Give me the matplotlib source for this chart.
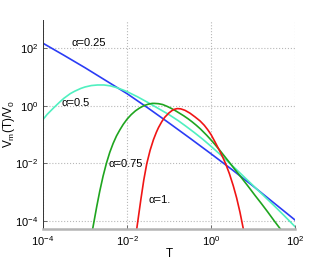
import numpy as np
from matplotlib import pyplot as plt

# valores (log10 de T y log10 de Vm/V0)
log_t_a025 = [-4.0, -3.5, -3.0, -2.5, -2.0, -1.5, -1.0, -0.5, 0.0, 0.5, 1.0, 1.5, 2.0]
log_v_a025 = [2.17, 1.75, 1.32, 0.87, 0.42, -0.08, -0.60, -1.13, -1.67, -2.22, -2.79, -3.38, -3.97]

log_t_a05 = [-4.0, -3.9, -3.75, -3.6, -3.5, -3.35, -3.25, -3.1, -3.0, -2.85, -2.7, -2.55,
             -2.4, -2.25, -2.1, -2.0, -1.75, -1.5, -1.25, -1.0, -0.78, -0.6, -0.4, -0.2,
             0.0, 0.2, 0.4, 0.6, 0.8, 1.0, 1.25, 1.5, 1.75, 2.0]
log_v_a05 = [-0.48, -0.30, -0.08, 0.13, 0.26, 0.42, 0.50, 0.60, 0.65, 0.70, 0.72, 0.72,
             0.69, 0.63, 0.55, 0.49, 0.31, 0.11, -0.10, -0.31, -0.52, -0.71, -0.93, -1.16,
             -1.41, -1.67, -1.94, -2.21, -2.49, -2.77, -3.12, -3.47, -3.83, -4.20]

log_t_a075 = [-2.85, -2.82, -2.78, -2.72, -2.65, -2.57, -2.49, -2.41, -2.33, -2.25,
              -2.17, -2.09, -2.0, -1.9, -1.8, -1.7, -1.6, -1.5, -1.4, -1.35,
              -1.25, -1.15, -1.05, -0.95, -0.85, -0.75, -0.65, -0.55, -0.45, -0.35,
              -0.25, -0.1, 0.05, 0.21, 0.4, 0.55, 0.73, 0.9, 1.05, 1.2,
              1.35, 1.5, 1.65, 1.72]
log_v_a075 = [-4.55, -4.30, -3.98, -3.50, -2.98, -2.45, -2.00, -1.62, -1.31, -1.05,
              -0.84, -0.65, -0.47, -0.31, -0.18, -0.08, 0.00, 0.05, 0.08, 0.08,
              0.07, 0.04, -0.02, -0.09, -0.17, -0.26, -0.35, -0.45, -0.56, -0.68,
              -0.81, -1.03, -1.27, -1.55, -1.90, -2.18, -2.51, -2.83, -3.12, -3.40,
              -3.69, -3.99, -4.28, -4.42]

log_t_a1 = [-1.80, -1.77, -1.72, -1.67, -1.60, -1.53, -1.45, -1.37, -1.30, -1.25, -1.17,
            -1.10, -1.00, -0.93, -0.86, -0.80, -0.72, -0.62, -0.50, -0.38, -0.26, -0.16,
            -0.08, 0.00, 0.10, 0.21, 0.28, 0.35, 0.44, 0.53, 0.61, 0.69, 0.77, 0.82]
log_v_a1 = [-4.60, -4.30, -3.78, -3.26, -2.58, -2.02, -1.55, -1.18, -0.92, -0.76, -0.55,
            -0.40, -0.25, -0.17, -0.12, -0.10, -0.11, -0.16, -0.26, -0.39, -0.53, -0.68,
            -0.83, -1.00, -1.27, -1.58, -1.79, -2.02, -2.37, -2.78, -3.20, -3.70, -4.28, -4.68]

etiquetas = ["α=0.25", "α=0.5", "α=0.75", "α=1."]

plt.rcParams["font.family"] = ["Liberation Sans", "DejaVu Sans"]
plt.rcParams["mathtext.fontset"] = "custom"
plt.rcParams["mathtext.rm"] = "Liberation Sans"
plt.rcParams["mathtext.it"] = "Liberation Sans:italic"

fig = plt.figure(figsize=(3.27, 2.59), dpi=100)
ax = fig.add_axes([0.1315, 0.1158, 0.7706, 0.807])

series = [(log_t_a025, log_v_a025, "#2a3cf5"),
          (log_t_a05, log_v_a05, "#50f0c0"),
          (log_t_a075, log_v_a075, "#1fa51f"),
          (log_t_a1, log_v_a1, "#f01515")]
for lt, lv, color in series:
    ax.plot(10 ** np.array(lt), 10 ** np.array(lv), color=color, lw=1.2,
            solid_joinstyle="round")

ax.set_xscale("log")
ax.set_yscale("log")
ax.set_xlim(1e-4, 1e2)
ax.set_ylim(5.2e-5, 9.5e2)
ax.set_xticks([1e-4, 1e-2, 1e0, 1e2])
ax.set_yticks([1e-4, 1e-2, 1e0, 1e2])
ax.minorticks_off()
ax.grid(True, linestyle=":", color="#b8b8b8", lw=0.8)
ax.tick_params(direction="in", length=3, width=0.6, labelsize=8, color="#555555")

ax.spines["top"].set_visible(False)
ax.spines["right"].set_visible(False)
ax.spines["left"].set_color("#333333")
ax.spines["left"].set_linewidth(0.7)
ax.spines["bottom"].set_color("#b4b4b4")
ax.spines["bottom"].set_linewidth(1.8)

ax.set_xlabel("T", fontsize=8.5, labelpad=0)
ax.set_ylabel(r"V$_{\rm m}$(T)/V$_0$", fontsize=8.5)
ax.yaxis.set_label_coords(-0.105, 0.5)

# posiciones de las etiquetas de cada curva
pos_texto = [(10 ** -3.31, 10 ** 2.17), (10 ** -3.55, 10 ** 0.10),
             (10 ** -2.45, 10 ** -2.01), (10 ** -1.48, 10 ** -3.26)]
for txt, (x, y) in zip(etiquetas, pos_texto):
    ax.text(x, y, txt, fontsize=8, ha="left", va="center")

fig.savefig("out.png", dpi=100)
